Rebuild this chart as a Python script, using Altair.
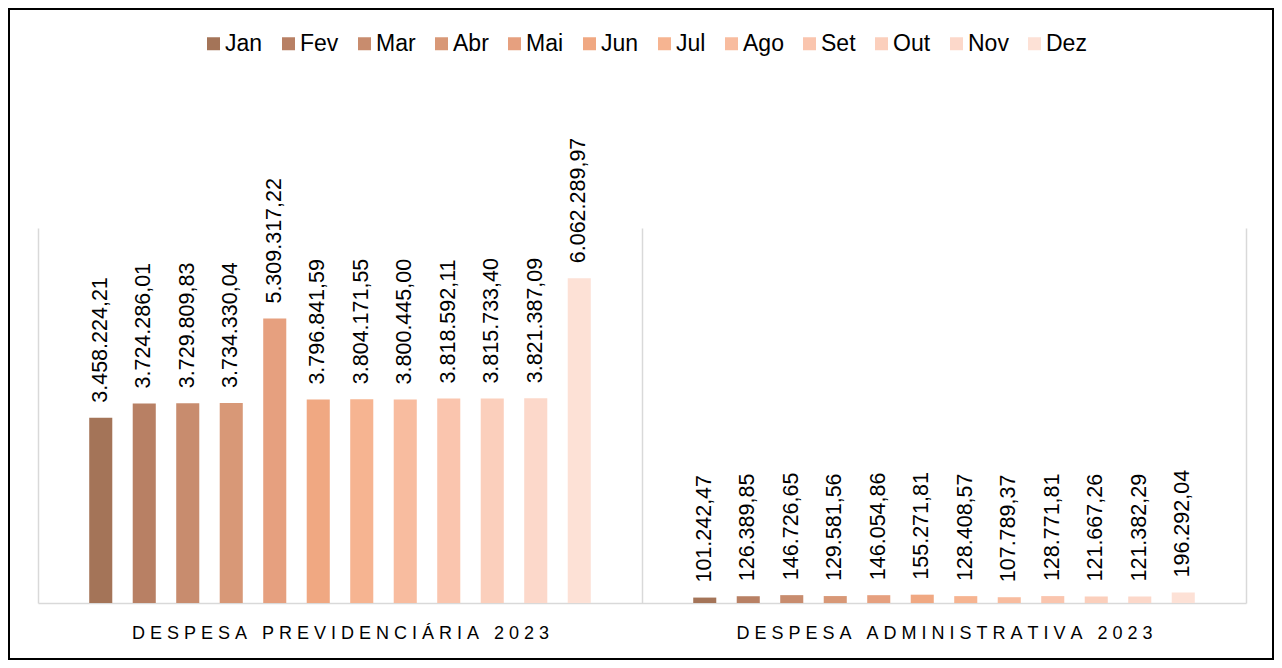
import altair as alt
import pandas as pd

months = ["Jan", "Fev", "Mar", "Abr", "Mai", "Jun", "Jul", "Ago", "Set", "Out", "Nov", "Dez"]
categories = ["DESPESA PREVIDENCIÁRIA 2023", "DESPESA ADMINISTRATIVA 2023"]
previdenciaria = [3458224.21, 3724286.01, 3729809.83, 3734330.04, 5309317.22, 3796841.59,
                  3804171.55, 3800445.00, 3818592.11, 3815733.40, 3821387.09, 6062289.97]
administrativa = [101242.47, 126389.85, 146726.65, 129581.56, 146054.86, 155271.81,
                  128408.57, 107789.37, 128771.81, 121667.26, 121382.29, 196292.04]
colors = ["#A47458", "#B88064", "#C88C6E", "#D89877", "#E6A07F", "#F0A882",
          "#F6B491", "#F8BC9F", "#FAC5AE", "#FBCFBC", "#FCD8CA", "#FDE1D6"]

rows = []
for cat, vals in zip(categories, [previdenciaria, administrativa]):
    for m, v in zip(months, vals):
        rows.append({"categoria": cat, "mes": m, "valor": v})
df = pd.DataFrame(rows)

FONT = "Liberation Sans"
W, H = 1208, 375

x = alt.X("categoria:N", sort=categories, title=None,
          scale=alt.Scale(paddingInner=0, paddingOuter=0),
          axis=alt.Axis(labelAngle=0, labelFontSize=18, labelColor="#000000", labelFont=FONT,
                        labelLimit=0,
                        ticks=False, domainColor="#D9D9D9", domainWidth=1.5,
                        grid=True, gridColor="#D9D9D9", gridWidth=1.5, tickBand="extent",
                        labelPadding=21,
                        labelExpr="join(split(datum.label, ''), '\u00a0')"))
xo = alt.XOffset("mes:N", sort=months,
                 scale=alt.Scale(range=[41, 563], paddingInner=0.47, paddingOuter=0.235))
y = alt.Y("valor:Q", scale=alt.Scale(domain=[0, 7000000]), axis=None)

base = alt.Chart(df).encode(x=x, xOffset=xo, y=y)

bars = base.mark_bar().encode(
    color=alt.Color("mes:N", sort=months,
                    scale=alt.Scale(domain=months, range=colors),
                    legend=alt.Legend(title=None, orient="none", direction="horizontal",
                                      legendX=164, legendY=-196, symbolType="square",
                                      symbolSize=169, symbolStrokeWidth=0,
                                      labelFontSize=23, labelFont=FONT, labelColor="#000000",
                                      labelOffset=0, columnPadding=14, padding=0))
)

labels = base.mark_text(angle=270, align="left", baseline="middle", dx=15,
                        fontSize=21.5, font=FONT, color="#000000").encode(
    text=alt.Text("valor:Q", format=",.2f")
)

border = alt.Chart(pd.DataFrame({"a": [0]})).mark_rect(
    fill=None, stroke="#000000", strokeWidth=2).encode(
    x=alt.value(-29), x2=alt.value(1235), y=alt.value(-219), y2=alt.value(431))

chart = alt.layer(bars, labels, border).properties(
    width=W, height=H,
    autosize=alt.AutoSizeParams(type="none"),
    padding={"left": 30, "top": 220, "right": 28, "bottom": 57},
).configure(
    locale=alt.Locale(number=alt.NumberLocale(decimal=",", thousands=".", grouping=[3],
                                              currency=["R$", ""]))
).configure_view(strokeWidth=0, stroke="transparent")

chart.save("out.html", embed_options={"renderer": "svg", "actions": False})
